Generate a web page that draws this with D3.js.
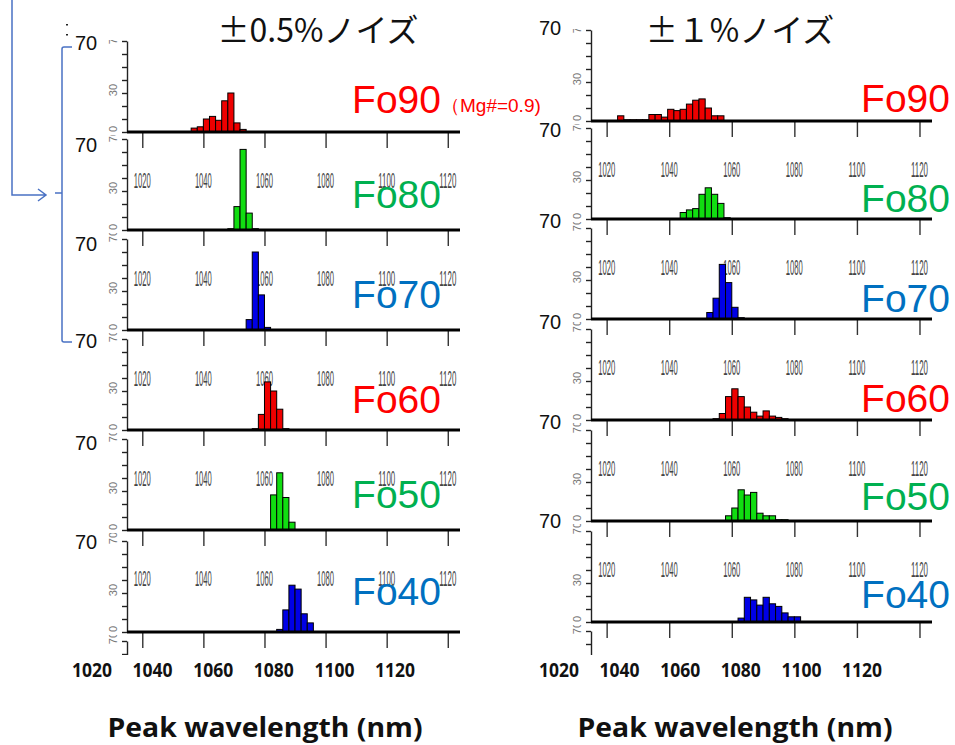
<!DOCTYPE html>
<html>
<head>
<meta charset="utf-8">
<script src="https://cdn.jsdelivr.net/npm/d3@7"></script>
<style>
body{margin:0;background:#fff;}
svg{display:block;}
</style>
</head>
<body>
<svg id="chart" width="955" height="745"></svg>
<script>
// ---- data (histograms, 2 nm bins) ----
var labels = ["Fo90","Fo80","Fo70","Fo60","Fo50","Fo40"];
var ticks = [1020,1040,1060,1080,1100,1120];
var yTicks = [0,10,20,30,40,50,60,70];
var yLabels = [0,30,70];
var binWidth = 2;

// ±0.5% noise : first bin edge (nm) and counts
var noise05Start = [1036,1048,1054,1056,1062,1064];
var noise05Counts = [
  [3,4,10,12,9,24,30,7,2],
  [1,18,62,13,1],
  [8,60,27,2],
  [1,12,37,30,16,1],
  [27,44,25,6],
  [2,17,36,33,14,7]
];

// ±1% noise
var noise1Start = [1023.5,1043.5,1052,1054,1058,1062];
var noise1Counts = [
  [4,1,1,1,1,5,5,3,9,8,9,13,16,17,10,4,4],
  [5,7,8,19,24,19,12,1],
  [5,16,42,28,9,1],
  [1,5,18,24,18,10,6,3,7,3,2,1],
  [4,10,24,20,22,6,4,4,1,1],
  [3,19,17,13,19,14,12,7,4,4]
];

// ---- styles / layout ----
var labelColors = ["#ff0000","#00b050","#0070c0","#ff0000","#00b050","#0070c0"];
var barColors = ["#ee0000","#11dd11","#0000e6","#ee0000","#11dd11","#0000e6"];

var columns = [
  {x0:127, x1:460, baselines:[132,230,330,430,530,632,732],
   big70:[50,152,251,348,450,549], labelRight:441, labelBase:[113,208,308,413,508,605],
   title:"±0.5%ノイズ", titleX:318, boldRange:[92,395], xlabX:265,
   start:noise05Start, counts:noise05Counts},
  {x0:591, x1:932, baselines:[121,219,319,420,521,622,722],
   big70:[35,137,228,329,429,528], labelRight:950, labelBase:[112,212,312,412,510,608],
   title:"±１%ノイズ", titleX:740, boldRange:[559,862], xlabX:735,
   start:noise1Start, counts:noise1Counts}
];

var axisH = 91;
var clipBottom = 655;

var svg = d3.select("#chart");
var defs = svg.append("defs");

columns.forEach(function(col, c){

    var x = d3.scaleLinear().domain([1015,1124]).range([col.x0, col.x1]);
    var g = svg.append("g");

    col.baselines.forEach(function(base, i){

        var top = base - axisH;
        var clipTop = (i==0) ? top-1 : col.baselines[i-1]+3;
        var id = "clip"+c+"_"+i;
        defs.append("clipPath").attr("id",id)
            .append("rect")
            .attr("x",col.x0-40).attr("y",clipTop)
            .attr("width",col.x1-col.x0+60).attr("height",clipBottom-clipTop);

        var p = g.append("g").attr("clip-path","url(#"+id+")");
        var y = d3.scaleLinear().domain([0,70]).range([base, top]);

        // vertical axis
        var ax = p.append("g")
            .attr("transform","translate("+col.x0+",0)")
            .call(d3.axisLeft(y).tickValues(yTicks).tickSize(5).tickSizeOuter(0).tickFormat(""));
        ax.select(".domain").attr("stroke","#222").attr("stroke-width",1.4);
        ax.selectAll(".tick line").attr("stroke","#222").attr("stroke-width",1.4);

        var shown = yLabels.filter(function(d){ return y(d)-10 < clipBottom; });
        p.selectAll(".ylab").data(shown).enter().append("text")
            .attr("transform",function(d){ return "translate("+(col.x0-10)+","+(y(d)-3)+") rotate(-90)"; })
            .attr("text-anchor","middle")
            .style("font-family","Liberation Sans")
            .style("font-size","11px")
            .style("fill","#777")
            .text(function(d){ return d; });

        if(i >= labels.length) return;

        // bars
        var st = col.start[i];
        var bins = col.counts[i].map(function(v,k){
            return {a:st+k*binWidth, b:st+(k+1)*binWidth, v:v};
        });
        p.selectAll(".bar").data(bins).enter().append("rect")
            .attr("x",function(d){ return x(d.a); })
            .attr("width",function(d){ return x(d.b)-x(d.a); })
            .attr("y",function(d){ return y(d.v); })
            .attr("height",function(d){ return base-y(d.v); })
            .attr("fill",barColors[i])
            .attr("stroke","#000")
            .attr("stroke-width",1);

        // x axis (ticks hang under the baseline, labels fall in next panel)
        var xa = p.append("g")
            .attr("transform","translate(0,"+base+")")
            .call(d3.axisBottom(x).tickValues(ticks).tickSize(16).tickSizeOuter(0).tickFormat(""));
        xa.select(".domain").remove();
        xa.selectAll(".tick line").attr("stroke","#333").attr("stroke-width",1.4);

        p.append("line")
            .attr("x1",col.x0).attr("x2",col.x1)
            .attr("y1",base).attr("y2",base)
            .attr("stroke","#000").attr("stroke-width",3);

        if(base+44 < clipBottom){
            p.selectAll(".xlab").data(ticks).enter().append("text")
                .attr("x",function(d){ return x(d); })
                .attr("y",base+56)
                .attr("text-anchor","middle")
                .attr("textLength",17)
                .attr("lengthAdjust","spacingAndGlyphs")
                .style("font-family","Liberation Sans Narrow, Liberation Sans")
                .style("font-size","22px")
                .style("fill","#444")
                .text(function(d){ return d; });
        }

        // sample label
        svg.append("text")
            .attr("x",col.labelRight)
            .attr("y",col.labelBase[i])
            .attr("text-anchor","end")
            .style("font-family","Liberation Sans")
            .style("font-size","39px")
            .style("fill",labelColors[i])
            .text(labels[i]);
    });

    // big "70" labels
    g.selectAll(".big70").data(col.big70).enter().append("text")
        .attr("x",col.x0-41)
        .attr("y",function(d){ return d; })
        .attr("text-anchor","middle")
        .style("font-family","Liberation Sans")
        .style("font-size","20px")
        .style("fill","#111")
        .text("70");

    // title
    svg.append("text")
        .attr("x",col.titleX).attr("y",42)
        .attr("text-anchor","middle")
        .style("font-family","Noto Sans CJK JP")
        .style("font-size","32px")
        .style("fill","#111")
        .text(col.title);

    // bold bottom tick labels
    var xb = d3.scaleLinear().domain([1020,1120]).range(col.boldRange);
    svg.selectAll(".bold"+c).data(ticks).enter().append("text")
        .attr("x",function(d){ return xb(d); })
        .attr("y",677)
        .attr("text-anchor","middle")
        .attr("textLength",40)
        .attr("lengthAdjust","spacingAndGlyphs")
        .style("font-family","Open Sans")
        .style("font-weight","bold")
        .style("font-size","20px")
        .style("fill","#111")
        .text(function(d){ return d; });

    svg.append("text")
        .attr("x",col.xlabX).attr("y",737)
        .attr("text-anchor","middle")
        .attr("textLength",315)
        .attr("lengthAdjust","spacingAndGlyphs")
        .style("font-family","Open Sans")
        .style("font-weight","bold")
        .style("font-size","26px")
        .style("fill","#111")
        .text("Peak wavelength (nm)");
});

// Mg# note
svg.append("text")
    .attr("x",441).attr("y",112)
    .style("font-family","Liberation Sans")
    .style("font-size","19px")
    .style("fill","#ff0000")
    .text("（Mg#=0.9)");

// blue bracket and arrow
var blue = "#4a72c4";
svg.append("path")
    .attr("d","M12,0 V195 H46 M38,189 L46,195 L38,201")
    .attr("fill","none").attr("stroke",blue).attr("stroke-width",1.5);
svg.append("path")
    .attr("d","M72,47 H64 Q62,47 62,49 V340 Q62,342 64,342 H72 M55,193 H62")
    .attr("fill","none").attr("stroke",blue).attr("stroke-width",1.5);

// small dots near the top
svg.append("rect").attr("x",66).attr("y",24).attr("width",2).attr("height",1.5).attr("fill","#222");
svg.append("rect").attr("x",66).attr("y",34).attr("width",2).attr("height",1.5).attr("fill","#222");
</script>
</body>
</html>
